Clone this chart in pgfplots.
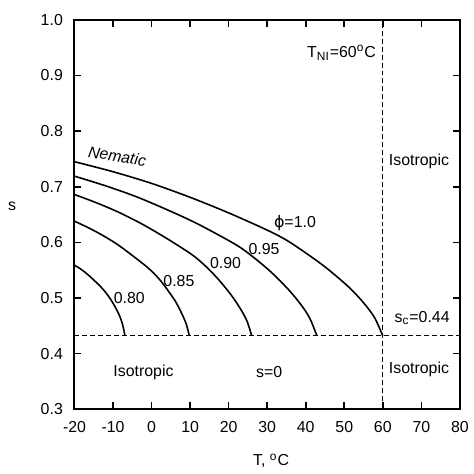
\documentclass[border=0pt]{standalone}
\usepackage{fontspec}
\setmainfont{Liberation Sans}
\newfontfamily\symfont{DejaVu Sans}
\usepackage{pgfplots}
\pgfplotsset{compat=1.18}

\begin{document}
\fontsize{8}{9.6}\selectfont
\begin{tikzpicture}
\begin{axis}[
  scale only axis, width=194pt, height=196pt,
  xmin=-20, xmax=80, ymin=0.3, ymax=1.0,
  xtick={-20,-10,0,10,20,30,40,50,60,70,80},
  ytick={0.3,0.4,0.5,0.6,0.7,0.8,0.9,1.0},
  tick align=inside, major tick length=3.5pt,
  axis line style={line width=1pt},
  every tick/.style={black, line width=0.8pt},
  clip=false,
  /pgf/number format/assume math mode=true,
  y tick label style={/pgf/number format/fixed, /pgf/number format/fixed zerofill,
    /pgf/number format/precision=1, /tikz/xshift=-3pt},
  x tick label style={/tikz/yshift=-3.5pt},
]
% phi = 1.0
\addplot[black, line width=0.8pt, smooth, tension=0.5] coordinates {
  (-20,0.745)(-10,0.727)(0,0.706)(10,0.681)(20,0.653)(30,0.622)(35,0.604)
  (40,0.581)(45,0.556)(50,0.527)(53,0.507)(56,0.483)(58,0.463)(60,0.432)};
% phi = 0.95
\addplot[black, line width=0.8pt, smooth, tension=0.5] coordinates {
  (-20,0.719)(-12.1,0.702)(-4.3,0.683)(3.6,0.660)(11.45,0.635)(19.3,0.606)(23.2,0.590)
  (27.2,0.569)(31.1,0.546)(35.0,0.519)(37.4,0.500)(39.8,0.478)(41.3,0.460)(42.9,0.432)};
% phi = 0.90
\addplot[black, line width=0.8pt, smooth, tension=0.5] coordinates {
  (-20,0.686)(-14.25,0.671)(-8.5,0.654)(-2.75,0.634)(3.0,0.611)(8.75,0.586)(11.6,0.572)
  (14.5,0.554)(17.4,0.533)(20.25,0.509)(22.0,0.492)(23.7,0.473)(24.85,0.457)(26.0,0.432)};
% phi = 0.85
\addplot[black, line width=0.8pt, smooth, tension=0.5] coordinates {
  (-20,0.638)(-16.3,0.626)(-12.55,0.612)(-8.8,0.596)(-5.1,0.577)(-1.4,0.557)(0.5,0.545)
  (2.35,0.531)(4.2,0.514)(6.1,0.495)(7.2,0.481)(8.3,0.465)(9.05,0.452)(9.8,0.432)};
% phi = 0.80
\addplot[black, line width=0.8pt, smooth, tension=0.5] coordinates {
  (-20,0.559)(-18.36,0.552)(-16.7,0.543)(-15.1,0.533)(-13.45,0.522)(-11.8,0.509)
  (-10.2,0.493)(-8.5,0.471)(-7.55,0.453)(-6.9,0.432)};
% s_c and T_NI
\addplot[black, line width=0.5pt, dash pattern=on 2.5pt off 1.5pt] coordinates {(-20,0.432)(80,0.432)};
\addplot[black, line width=0.5pt, dash pattern=on 2.5pt off 1.5pt] coordinates {(60,0.3)(60,1.0)};

\node at (axis cs:49.3,0.941) {T\textsubscript{NI}=60\textsuperscript{o}C};
\node at (axis cs:69.4,0.745) {Isotropic};
\node[rotate=-9] at (axis cs:-8.9,0.755) {\textit{Nematic}};
\node at (axis cs:37.2,0.634) {{\symfont ϕ}=1.0};
\node at (axis cs:29.2,0.588) {0.95};
\node at (axis cs:19.2,0.5625) {0.90};
\node at (axis cs:7.1,0.530) {0.85};
\node at (axis cs:-5.8,0.500) {0.80};
\node at (axis cs:-2.1,0.366) {Isotropic};
\node at (axis cs:30.5,0.366) {s=0};
\node at (axis cs:70.2,0.464) {s\textsubscript{c}=0.44};
\node at (axis cs:69.4,0.371) {Isotropic};
\node at (axis cs:-36.2,0.664) {s};
\node at (axis cs:31.0,0.2071) {T, \textsuperscript{o}C};
\end{axis}
\path ([shift={(-37.5pt,-30pt)}]current axis.south west) rectangle ([shift={(5.5pt,10pt)}]current axis.north east);
\end{tikzpicture}
\end{document}
